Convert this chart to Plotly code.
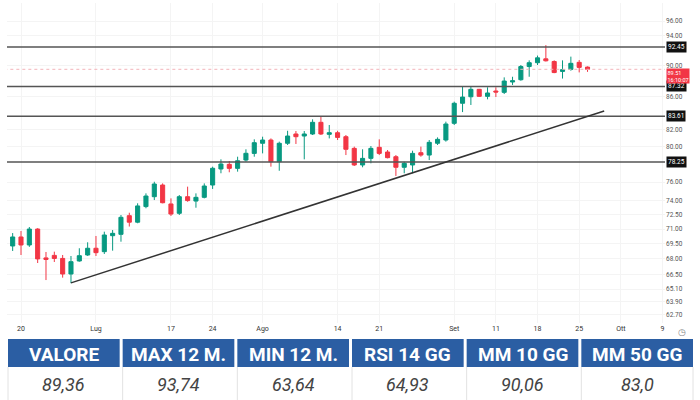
import math
import plotly.graph_objects as go

# ---------------- data ----------------
dates = [
    "2023-06-15", "2023-06-16", "2023-06-20", "2023-06-21", "2023-06-22", "2023-06-23",
    "2023-06-26", "2023-06-27", "2023-06-28", "2023-06-29", "2023-06-30",
    "2023-07-03", "2023-07-05", "2023-07-06", "2023-07-07", "2023-07-10", "2023-07-11",
    "2023-07-12", "2023-07-13", "2023-07-14", "2023-07-17", "2023-07-18", "2023-07-19",
    "2023-07-20", "2023-07-21", "2023-07-24", "2023-07-25", "2023-07-26", "2023-07-27",
    "2023-07-28", "2023-07-31",
    "2023-08-01", "2023-08-02", "2023-08-03", "2023-08-04", "2023-08-07", "2023-08-08",
    "2023-08-09", "2023-08-10", "2023-08-11", "2023-08-14", "2023-08-15", "2023-08-16",
    "2023-08-17", "2023-08-18", "2023-08-21", "2023-08-22", "2023-08-23", "2023-08-24",
    "2023-08-25", "2023-08-28", "2023-08-29", "2023-08-30", "2023-08-31",
    "2023-09-01", "2023-09-05", "2023-09-06", "2023-09-07", "2023-09-08", "2023-09-11",
    "2023-09-12", "2023-09-13", "2023-09-14", "2023-09-15", "2023-09-18", "2023-09-19",
    "2023-09-20", "2023-09-21", "2023-09-22", "2023-09-25", "2023-09-26",
]
future_dates = [
    "2023-09-27", "2023-09-28", "2023-09-29", "2023-10-02", "2023-10-03", "2023-10-04",
    "2023-10-05", "2023-10-06", "2023-10-09", "2023-10-10", "2023-10-11", "2023-10-12",
    "2023-10-13",
]

open_ = [67.40, 69.29, 70.20, 69.39, 71.01, 68.10, 68.35, 68.05, 66.53, 67.80,
         68.39, 69.06, 68.72, 70.33, 70.47, 72.40, 71.72, 73.36, 74.42, 75.69,
         73.64, 72.65, 74.42, 73.95, 74.35, 75.69, 77.47, 77.99, 77.54, 78.48,
         79.24, 80.41, 80.79, 78.29, 80.41, 81.50, 81.26, 81.50, 82.89, 81.46,
         81.65, 81.18, 79.82, 77.92, 78.67, 79.94, 79.40, 78.86, 77.66, 77.92,
         79.32, 79.05, 80.41, 80.79, 82.77, 85.21, 86.02, 86.95, 86.07, 86.74,
         86.57, 87.88, 88.17, 89.87, 90.37, 90.88, 90.53, 89.24, 89.50, 90.42,
         89.80]
high = [69.60, 70.60, 70.81, 71.22, 71.10, 68.69, 68.72, 68.39, 68.29, 69.06,
        69.66, 70.30, 70.74, 70.91, 72.47, 72.71, 73.71, 74.78, 76.05, 75.87,
        74.24, 74.60, 75.51, 74.78, 75.87, 77.73, 78.56, 78.37, 78.86, 79.71,
        80.87, 81.18, 80.98, 80.60, 81.88, 81.85, 81.85, 83.25, 83.57, 82.57,
        81.88, 81.38, 80.02, 79.71, 80.09, 80.87, 79.63, 79.05, 78.29, 79.55,
        80.02, 80.79, 81.10, 82.97, 85.41, 87.33, 87.37, 87.00, 87.21, 87.21,
        88.47, 88.55, 90.07, 90.68, 91.31, 92.70, 90.68, 90.68, 91.17, 90.72,
        89.88]
low = [67.20, 68.79, 68.39, 69.20, 67.60, 65.95, 67.70, 66.18, 65.65, 67.73,
       68.30, 68.29, 68.49, 68.82, 69.72, 71.27, 71.61, 73.18, 74.06, 73.71,
       72.37, 72.47, 73.88, 73.24, 74.24, 75.26, 76.99, 77.10, 77.17, 78.29,
       78.86, 79.24, 77.73, 77.27, 80.21, 80.33, 78.56, 81.38, 81.38, 80.98,
       80.79, 79.05, 77.81, 77.66, 78.11, 79.05, 78.67, 76.69, 76.99, 76.99,
       78.86, 78.48, 80.21, 80.60, 82.57, 84.13, 85.00, 85.99, 85.70, 85.99,
       86.36, 87.50, 88.04, 88.55, 90.07, 90.53, 89.01, 88.32, 89.33, 89.11,
       89.18]
close = [69.39, 70.20, 69.39, 71.01, 68.00, 67.95, 68.05, 66.53, 67.73, 68.32,
         69.06, 68.62, 70.40, 70.57, 72.23, 71.72, 73.43, 74.49, 75.80, 73.77,
         72.57, 74.42, 74.00, 74.35, 75.58, 77.55, 78.03, 77.54, 78.40, 79.25,
         80.48, 80.79, 78.29, 80.41, 81.26, 81.18, 81.50, 82.89, 81.50, 81.65,
         81.10, 79.71, 77.92, 78.67, 79.82, 79.24, 78.75, 77.66, 78.11, 79.24,
         79.05, 80.52, 80.87, 82.69, 85.21, 85.98, 86.95, 86.07, 86.49, 86.61,
         88.00, 88.04, 89.87, 90.37, 91.01, 90.62, 89.09, 89.46, 90.29, 89.76,
         89.51]

levels = [92.45, 87.32, 83.61, 78.25]
last_price = 89.51
countdown = "16:10:07"
trend_dates = ["2023-06-28", "2023-09-28"]
trend_values = [65.68, 84.26]

x_tick_dates = ["2023-06-20", "2023-07-03", "2023-07-17", "2023-07-24", "2023-08-01",
                "2023-08-14", "2023-08-21", "2023-09-01", "2023-09-11", "2023-09-18",
                "2023-09-25", "2023-10-02", "2023-10-09"]
x_tick_labels = ["20", "Lug", "17", "24", "Ago", "14", "21", "Set", "11", "18", "25", "Ott", "9"]
y_tick_values = [96, 94, 90, 86, 82, 80, 76, 74, 72.5, 71, 69.5, 68, 66.5, 65.1, 63.9, 62.7]
y_tick_labels = ["%.2f" % v for v in y_tick_values]

table_headers = ["VALORE", "MAX 12 M.", "MIN 12 M.", "RSI 14 GG", "MM 10 GG", "MM 50 GG"]
table_values = ["89,36", "93,74", "63,64", "64,93", "90,06", "83,0"]

# ---------------- styling ----------------
W, H = 700, 400
GREEN = "#089981"
RED = "#F23645"
FONT = "Roboto"
all_dates = dates + future_dates

fig = go.Figure()
fig.add_trace(go.Candlestick(
    x=dates, open=open_, high=high, low=low, close=close,
    increasing=dict(line=dict(color=GREEN, width=1), fillcolor=GREEN),
    decreasing=dict(line=dict(color=RED, width=1), fillcolor=RED),
    whiskerwidth=0, hoverinfo="skip", showlegend=False,
))
# price line
fig.add_trace(go.Scatter(
    x=[all_dates[0], all_dates[-1]], y=[last_price, last_price], mode="lines",
    line=dict(color="#f3b3b9", width=1, dash="dot"), hoverinfo="skip", showlegend=False))
# horizontal levels
for lv in levels:
    fig.add_trace(go.Scatter(
        x=[all_dates[0], all_dates[-1]], y=[lv, lv], mode="lines",
        line=dict(color="#555555", width=1.5), hoverinfo="skip", showlegend=False))
# trend line
fig.add_trace(go.Scatter(
    x=trend_dates, y=trend_values, mode="lines",
    line=dict(color="#333333", width=1.5), hoverinfo="skip", showlegend=False))

annotations = []
for lv in levels:
    annotations.append(dict(
        xref="paper", x=666 / W, xanchor="left", yref="y", y=math.log10(lv), yanchor="middle",
        text="%.2f" % lv, showarrow=False, bgcolor="#111111", borderpad=1,
        font=dict(color="white", size=6.5, family=FONT)))
annotations.append(dict(
    xref="paper", x=666 / W, xanchor="left", yref="y", y=math.log10(last_price), yanchor="top",
    yshift=1, text="%.2f<br>%s" % (last_price, countdown), showarrow=False,
    bgcolor=RED, borderpad=0.5, align="left",
    font=dict(color="white", size=5.5, family=FONT)))
annotations.append(dict(
    xref="paper", x=682 / W, xanchor="center", yref="paper", y=1 - 332 / H, yanchor="middle",
    text="◷", showarrow=False, font=dict(color="#888888", size=9)))

shapes = []
x_left, x_right = 8, 693
pitch = (x_right - x_left + 3) / len(table_headers)
cw = pitch - 3
for k, (hd, val) in enumerate(zip(table_headers, table_values)):
    x0 = x_left + k * pitch
    x1 = x0 + cw
    shapes.append(dict(type="rect", xref="paper", yref="paper",
                       x0=x0 / W, x1=x1 / W, y0=1 - 367 / H, y1=1 - 339 / H,
                       fillcolor="#2b5ea3", line=dict(width=0), layer="below"))
    shapes.append(dict(type="line", xref="paper", yref="paper",
                       x0=x0 / W, x1=x0 / W, y0=0, y1=1 - 367 / H,
                       line=dict(color="#e2e2e2", width=1)))
    annotations.append(dict(xref="paper", yref="paper", x=(x0 + x1) / 2 / W, y=1 - 354 / H,
                            xanchor="center", yanchor="middle",
                            text="<b>%s</b>" % hd, showarrow=False,
                            font=dict(color="white", size=19, family=FONT)))
    annotations.append(dict(xref="paper", yref="paper", x=(x0 + x1) / 2 / W, y=1 - 384 / H,
                            xanchor="center", yanchor="middle",
                            text="<i>%s</i>" % val, showarrow=False,
                            font=dict(color="#444444", size=18, family=FONT)))
shapes.append(dict(type="line", xref="paper", yref="paper",
                   x0=x_right / W, x1=x_right / W, y0=0, y1=1 - 367 / H,
                   line=dict(color="#e2e2e2", width=1)))

fig.update_layout(
    width=W, height=H, margin=dict(l=0, r=0, t=0, b=0),
    paper_bgcolor="white", plot_bgcolor="white", showlegend=False,
    font=dict(family=FONT),
    xaxis=dict(type="category", categoryorder="array", categoryarray=all_dates,
               range=[0.32, 79.3], domain=[7 / W, 665 / W],
               tickmode="array", tickvals=x_tick_dates, ticktext=x_tick_labels,
               tickfont=dict(size=7, color="#333333"), showgrid=True, gridcolor="#f4f4f4",
               zeroline=False, showline=False, ticks="", rangeslider=dict(visible=False),
               fixedrange=True, automargin=False),
    yaxis=dict(type="log", range=[math.log10(61.97), math.log10(98.54)],
               domain=[1 - 323 / H, 1 - 3 / H], side="right",
               tickmode="array", tickvals=y_tick_values, ticktext=y_tick_labels,
               tickfont=dict(size=6.5, color="#555555"), showgrid=True, gridcolor="#f4f4f4",
               zeroline=False, showline=False, ticks="", fixedrange=True, automargin=False),
    annotations=annotations, shapes=shapes,
)

fig.write_html(
    "out.html",
    config={"displayModeBar": False},
    post_script="document.body.style.margin='0px';document.body.style.overflow='hidden';",
)
